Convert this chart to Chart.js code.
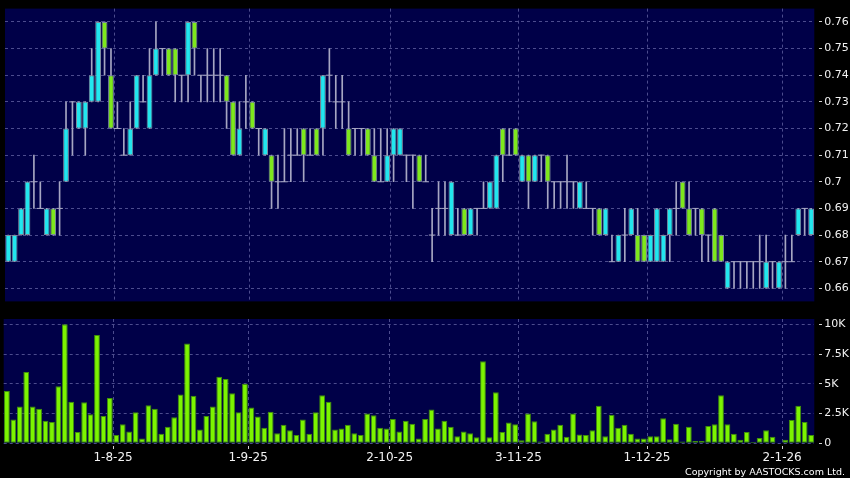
<!DOCTYPE html>
<html><head><meta charset="utf-8">
<script src="https://cdn.jsdelivr.net/npm/chart.js@4.4.1/dist/chart.umd.min.js"></script>
<style>
html,body{margin:0;padding:0;background:#000;width:850px;height:478px;overflow:hidden}
#c1{position:absolute;left:0;top:0;width:850px;height:310px}
#c2{position:absolute;left:0;top:310px;width:850px;height:168px}
#copy{position:absolute;right:5px;top:466px;line-height:11px;color:#fff;font-family:"DejaVu Sans";font-size:9.5px;white-space:nowrap}
</style></head>
<body>
<canvas id="c1" width="850" height="310"></canvas>
<canvas id="c2" width="850" height="168"></canvas>
<div id="copy">Copyright by AASTOCKS.com Ltd.</div>
<script>
// ---- data ----
const openP = [
.67,.67,.68,.68,.70,.69,.68,.69,.69,.70,
.73,.72,.72,.73,.73,.76,.74,.72,.71,.71,
.72,.73,.72,.74,.75,.75,.75,.74,.74,.76,
.74,.74,.74,.74,.74,.73,.71,.73,.73,.72,
.71,.71,.70,.70,.71,.71,.72,.71,.72,.72,
.74,.73,.73,.72,.72,.72,.72,.71,.70,.70,
.71,.71,.71,.71,.71,.70,.68,.69,.69,.68,
.68,.69,.68,.69,.69,.69,.69,.72,.71,.72,
.70,.71,.70,.71,.71,.70,.70,.70,.70,.69,
.69,.69,.69,.68,.67,.67,.68,.68,.68,.68,
.67,.67,.67,.68,.69,.70,.69,.69,.69,.68,
.69,.68,.66,.67,.67,.67,.67,.67,.66,.67,
.66,.67,.67,.68,.69,.68];
const highP = [
.68,.68,.69,.70,.71,.70,.69,.69,.70,.73,
.73,.73,.73,.75,.76,.76,.75,.73,.72,.73,
.74,.74,.75,.76,.75,.75,.75,.74,.76,.76,
.74,.75,.75,.75,.74,.73,.73,.74,.73,.72,
.72,.71,.71,.72,.72,.72,.72,.72,.72,.74,
.75,.74,.74,.73,.72,.72,.72,.72,.72,.72,
.72,.72,.71,.71,.71,.71,.69,.70,.70,.70,
.69,.69,.69,.69,.70,.70,.71,.72,.72,.72,
.71,.71,.71,.71,.71,.70,.70,.71,.70,.70,
.70,.69,.69,.69,.68,.68,.69,.69,.69,.68,
.68,.69,.68,.69,.70,.70,.70,.69,.69,.68,
.69,.68,.67,.67,.67,.67,.67,.68,.68,.67,
.67,.68,.68,.69,.69,.69];
const lowP = [
.67,.67,.68,.68,.69,.69,.68,.68,.68,.70,
.71,.72,.71,.73,.73,.74,.72,.72,.71,.71,
.72,.73,.72,.74,.74,.74,.73,.73,.73,.74,
.73,.73,.73,.73,.72,.71,.71,.72,.72,.71,
.71,.69,.69,.70,.70,.71,.70,.71,.71,.71,
.73,.72,.72,.71,.71,.71,.71,.70,.70,.70,
.70,.71,.70,.69,.70,.70,.67,.68,.68,.68,
.68,.68,.68,.68,.69,.69,.69,.70,.71,.71,
.70,.69,.70,.70,.69,.69,.69,.69,.69,.69,
.69,.68,.68,.68,.67,.67,.67,.68,.67,.67,
.67,.67,.67,.67,.68,.69,.68,.68,.67,.67,
.67,.67,.66,.66,.66,.66,.66,.66,.66,.66,
.66,.66,.67,.68,.68,.68];
const closeP = [
.68,.68,.69,.70,.70,.69,.69,.68,.69,.72,
.73,.73,.73,.74,.76,.75,.72,.72,.71,.72,
.74,.73,.74,.75,.75,.74,.74,.74,.76,.75,
.74,.74,.74,.74,.73,.71,.72,.73,.72,.72,
.72,.70,.70,.70,.71,.71,.71,.71,.71,.74,
.74,.73,.73,.71,.72,.72,.71,.70,.70,.71,
.72,.72,.71,.71,.70,.70,.68,.69,.69,.70,
.68,.68,.69,.69,.69,.70,.71,.71,.71,.71,
.71,.70,.71,.71,.70,.70,.70,.70,.70,.70,
.69,.69,.68,.69,.67,.68,.68,.69,.67,.67,
.68,.69,.68,.69,.69,.69,.68,.69,.68,.68,
.67,.67,.67,.67,.67,.67,.67,.67,.67,.67,
.67,.67,.67,.69,.69,.69];
const volume = [
4400,2000,3100,6000,3100,2900,1900,1800,4800,10000,
3500,950,3450,2450,9100,2300,3800,700,1600,1000,
2600,400,3200,2900,800,1400,2200,4100,8400,4000,
1150,2300,3100,5600,5400,4200,2600,5000,3000,2250,
1300,2650,850,1550,1100,700,2000,800,2600,4050,
3500,1150,1250,1550,850,700,2500,2350,1300,1250,
2050,1000,1900,1650,400,2050,2850,1250,1900,1400,
600,1000,850,500,6900,500,4300,950,1750,1600,
250,2500,1850,150,800,1150,1550,550,2500,750,
700,1100,3150,600,2400,1300,1550,800,400,400,
600,600,2100,350,1650,150,1400,200,200,1450,
1600,4050,1600,800,300,950,100,450,1100,550,
50,300,1950,3150,1800,700];
// trading-day categories
const days = openP.map((_, i) => 'd' + i);
// date ticks (positions in trading-day index units) and labels
const dateTickPos = [16.5, 37.5, 59.5, 79.5, 99.5, 120.5];
const dateTickLabels = ['1-8-25', '1-9-25', '2-10-25', '3-11-25', '1-12-25', '2-1-26'];
const priceTicks = [0.66, 0.67, 0.68, 0.69, 0.70, 0.71, 0.72, 0.73, 0.74, 0.75, 0.76];
const priceTickLabels = ['0.66', '0.67', '0.68', '0.69', '0.7', '0.71', '0.72', '0.73', '0.74', '0.75', '0.76'];
const volTicks = [0, 2500, 5000, 7500, 10000];
const volTickLabels = ['0', '2.5K', '5K', '7.5K', '10K'];

// ---- styles ----
const NAVY = '#000048';
const GRID = '#4c4c8e';
const WICK = '#a6a6c2';
const BODY_EDGE = '#7d8a9e';
const UP = '#22e6ee';
const DOWN = '#7ee81c';
const VOL = '#7cf400';
const VOL_EDGE = '#3f8f0a';
const TXT = '#f2f2f2';
const FONT = 'DejaVu Sans';

const bodies = openP.map((o, i) => o === closeP[i] ? null : [Math.min(o, closeP[i]), Math.max(o, closeP[i])]);
const bodyColors = openP.map((o, i) => closeP[i] > o ? UP : DOWN);
const wicks = lowP.map((l, i) => [l, highP[i]]);
const dojis = openP.map((o, i) => o === closeP[i] ? o : null);

const plotBg = {
  id: 'plotBg',
  beforeDraw(chart) {
    const a = chart.chartArea, ctx = chart.ctx;
    ctx.save(); ctx.fillStyle = NAVY;
    ctx.fillRect(a.left, a.top, a.right - a.left, a.bottom - a.top);
    ctx.restore();
  }
};

const PLOT_LEFT = 3.7, PLOT_RIGHT = 814.3;
const yAxisWidth = 850 - PLOT_RIGHT;

function dateAxis(showLabels, height) {
  return {
    type: 'category', offset: true,
    grid: { offset: false, color: GRID, drawTicks: showLabels, tickLength: 6, tickColor: '#d0d0d0',
            tickBorderDash: [0, 3, 3, 20] },
    border: { display: false, dash: [3, 3] },
    ticks: { display: showLabels, autoSkip: false, maxRotation: 0, color: TXT, padding: 1,
             font: { family: FONT, size: 12 }, callback: (v, i) => dateTickLabels[i] },
    afterBuildTicks: s => { s.ticks = dateTickPos.map(v => ({ value: v })); },
    afterFit: s => { s.height = height; }
  };
}

new Chart(document.getElementById('c1'), {
  type: 'bar',
  data: {
    labels: days,
    datasets: [
      { type: 'bar', data: bodies, backgroundColor: bodyColors, borderColor: BODY_EDGE, borderWidth: 1,
        borderSkipped: false, grouped: false, barPercentage: 0.9, categoryPercentage: 1, order: 0 },
      { type: 'line', data: dojis, showLine: false, pointStyle: 'line', pointRadius: 3.3,
        pointBorderColor: WICK, pointBorderWidth: 1, pointBackgroundColor: WICK, order: 1 },
      { type: 'bar', data: wicks, backgroundColor: WICK, borderWidth: 0, barThickness: 1,
        grouped: false, order: 2 }
    ]
  },
  options: {
    responsive: false, animation: false, events: [],
    layout: { padding: { left: PLOT_LEFT, top: 5.7, right: 0, bottom: 0 } },
    plugins: { legend: { display: false }, tooltip: { enabled: false } },
    scales: {
      x: dateAxis(false, 310 - 305.7),
      y: {
        position: 'right', min: 0.6551, max: 0.765,
        grid: { color: GRID, tickColor: '#d0d0d0', tickLength: 8, tickBorderDash: [0, 5, 3, 20] },
        border: { display: false, dash: [3, 3] },
        ticks: { color: TXT, padding: 2, font: { family: FONT, size: 11 }, callback: (v, i) => priceTickLabels[i] },
        afterBuildTicks: s => { s.ticks = priceTicks.map(v => ({ value: v })); },
        afterFit: s => { s.width = yAxisWidth; }
      }
    }
  },
  plugins: [plotBg]
});

new Chart(document.getElementById('c2'), {
  type: 'bar',
  data: {
    labels: days,
    datasets: [
      { data: volume, backgroundColor: VOL, borderColor: VOL_EDGE, borderWidth: 1, borderSkipped: false,
        barPercentage: 0.9, categoryPercentage: 1 }
    ]
  },
  options: {
    responsive: false, animation: false, events: [],
    layout: { padding: { left: PLOT_LEFT, top: 9, right: 0, bottom: 0 } },
    plugins: { legend: { display: false }, tooltip: { enabled: false } },
    scales: {
      x: dateAxis(true, 168 - 133.3),
      y: {
        position: 'right', min: 0, max: 10450,
        grid: { color: GRID, tickColor: '#d0d0d0', tickLength: 8, tickBorderDash: [0, 5, 3, 20] },
        border: { display: false, dash: [3, 3] },
        ticks: { color: TXT, padding: 2, font: { family: FONT, size: 11 }, callback: (v, i) => volTickLabels[i] },
        afterBuildTicks: s => { s.ticks = volTicks.map(v => ({ value: v })); },
        afterFit: s => { s.width = yAxisWidth; }
      }
    }
  },
  plugins: [plotBg]
});
</script>
</body></html>
